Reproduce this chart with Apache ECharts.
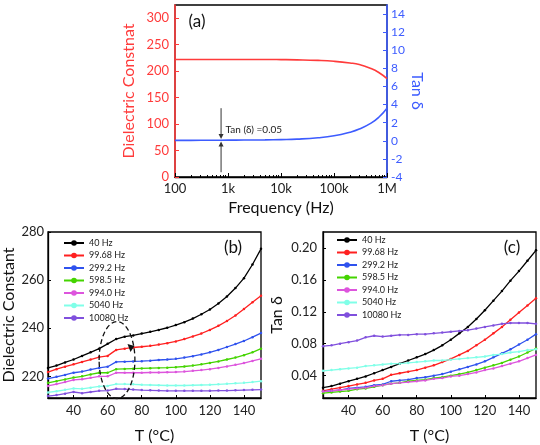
<!DOCTYPE html>
<html><head><meta charset="utf-8">
<script src="https://cdn.jsdelivr.net/npm/echarts@6/dist/echarts.min.js"></script>
<style>html,body{margin:0;padding:0;background:#fff}#c{width:540px;height:445px}</style>
</head><body><div id="c"></div>
<script>
// ---- Panel (a) data ----
const freqs = [100,200,500,1000,2000,5000,10000,20000,50000,100000,200000,300000,500000,700000,1000000];
const dielA = [222,222,222,222,222,222,221.8,221.4,220.3,218.6,215.5,212.5,205,197.5,186];
const tanA  = [0.05,0.05,0.06,0.07,0.08,0.1,0.13,0.18,0.33,0.55,0.95,1.3,1.95,2.6,3.6];
const freqTickLabels = {100:'100',1000:'1k',10000:'10k',100000:'100k',1000000:'1M'};
const dielTicksA = [0,50,100,150,200,250,300];
const tanTicksA = [-4,-2,0,2,4,6,8,10,12,14];

// ---- Panels (b),(c) data ----
const temps = [25,30,35,40,45,50,55,60,65,70,75,80,85,90,95,100,105,110,115,120,125,130,135,140,145,150];
const seriesNames = ['40 Hz','99.68 Hz','299.2 Hz','598.5 Hz','994.0 Hz','5040 Hz','10080 Hz'];
const seriesColors = ['#000000','#ff2020','#2f52ee','#44d400','#dd55dd','#80ffe8','#8050dd'];

const dc40    = [223.5,224.5,225.8,227.0,228.5,230.0,231.5,233.5,235.5,236.5,237.0,237.8,238.5,239.3,240.2,241.3,242.5,244.0,245.8,247.8,250.3,253.2,256.7,260.8,266.5,273.0];
const dc99    = [221.8,223.0,224.0,225.0,226.0,227.0,228.0,228.5,231.0,231.5,232.0,232.3,232.7,233.2,233.8,234.5,235.5,236.6,237.8,239.3,241.0,243.0,245.3,248.0,250.8,253.5];
const dc299   = [219.1,219.8,220.6,221.5,222.0,222.8,223.5,224.0,226.0,226.1,226.2,226.3,226.5,226.8,227.0,227.3,227.8,228.4,229.1,230.0,231.0,232.2,233.4,234.7,236.3,238.0];
const dc598   = [217.3,218.0,218.7,219.5,220.0,220.8,221.5,221.5,223.0,223.1,223.2,223.3,223.4,223.5,223.6,223.8,224.1,224.5,225.0,225.6,226.2,227.0,227.8,228.8,230.0,231.5];
const dc994   = [216.0,216.8,217.6,218.5,218.8,219.4,220.0,220.0,221.5,221.5,221.5,221.5,221.6,221.6,221.7,221.8,222.0,222.3,222.6,223.0,223.5,224.1,224.8,225.5,226.4,227.3];
const dc5040  = [213.3,213.8,214.4,215.0,214.8,215.3,215.8,216.0,216.8,216.8,216.7,216.5,216.4,216.3,216.2,216.2,216.2,216.3,216.4,216.5,216.7,216.9,217.1,217.3,217.6,218.0];
const dc10080 = [211.8,212.2,212.8,213.5,213.0,213.5,214.0,214.1,214.8,214.7,214.5,214.3,214.2,214.1,214.0,214.0,214.0,214.0,214.0,214.0,214.1,214.1,214.2,214.3,214.4,214.5];

const td40    = [0.025,0.027,0.030,0.033,0.036,0.039,0.043,0.047,0.051,0.055,0.059,0.063,0.067,0.072,0.078,0.085,0.093,0.101,0.111,0.122,0.134,0.146,0.159,0.171,0.184,0.197];
const td99    = [0.021,0.023,0.025,0.027,0.029,0.031,0.034,0.036,0.041,0.043,0.045,0.047,0.050,0.053,0.057,0.061,0.066,0.071,0.078,0.085,0.093,0.101,0.110,0.119,0.128,0.137];
const td299   = [0.020,0.021,0.022,0.024,0.025,0.026,0.028,0.029,0.033,0.034,0.035,0.037,0.038,0.040,0.042,0.045,0.048,0.051,0.054,0.058,0.063,0.068,0.073,0.079,0.085,0.092];
const td598   = [0.018,0.019,0.020,0.021,0.023,0.024,0.026,0.028,0.030,0.031,0.033,0.034,0.035,0.037,0.038,0.040,0.042,0.044,0.047,0.050,0.053,0.056,0.060,0.064,0.069,0.074];
const td994   = [0.020,0.021,0.022,0.023,0.024,0.025,0.027,0.028,0.030,0.031,0.032,0.033,0.034,0.036,0.037,0.039,0.040,0.042,0.044,0.047,0.049,0.052,0.055,0.058,0.062,0.066];
const td5040  = [0.046,0.047,0.048,0.049,0.050,0.052,0.053,0.054,0.055,0.055,0.056,0.057,0.058,0.059,0.059,0.060,0.061,0.062,0.063,0.064,0.066,0.067,0.069,0.070,0.072,0.073];
const td10080 = [0.077,0.078,0.080,0.082,0.084,0.088,0.090,0.089,0.090,0.091,0.091,0.092,0.092,0.093,0.094,0.095,0.096,0.097,0.099,0.101,0.103,0.105,0.106,0.106,0.106,0.105];

const tempTicks = [40,60,80,100,120,140];
const dcTicks = [220,240,260,280];
const tdTicks = [0.04,0.08,0.12,0.16,0.20];

const dcSets = [dc40,dc99,dc299,dc598,dc994,dc5040,dc10080];
const tdSets = [td40,td99,td299,td598,td994,td5040,td10080];

const FONT = 'Lato, "Open Sans", sans-serif';
const RED = '#ff3b3b', BLUE = '#3d5cff';
const pair = (xs, ys) => xs.map((x,i)=>[x, ys[i]]);

const chart = echarts.init(document.getElementById('c'), null, {renderer:'canvas'});

function tempXAxis(gi){
  return {
    type:'value', gridIndex:gi, min:25, max:150,
    name:'T (°C)', nameLocation:'middle', nameGap:30,
    nameTextStyle:{fontSize:16, color:'#111', fontFamily:FONT},
    axisLine:{lineStyle:{color:'#000', width:1.3}},
    axisTick:{inside:true, length:3, customValues:tempTicks, lineStyle:{color:'#000'}},
    axisLabel:{customValues:tempTicks, fontSize:13, color:'#222', fontFamily:FONT, margin:6},
    splitLine:{show:false}
  };
}

const series = [
  {type:'line', xAxisIndex:0, yAxisIndex:0, data:pair(freqs,dielA), smooth:true, showSymbol:false,
   lineStyle:{color:RED, width:1.6}, itemStyle:{color:RED}, z:3},
  {type:'line', xAxisIndex:0, yAxisIndex:1, data:pair(freqs,tanA), smooth:true, showSymbol:false,
   lineStyle:{color:BLUE, width:1.6}, itemStyle:{color:BLUE}, z:3}
];
seriesNames.forEach((n,i)=>{
  series.push({type:'line', name:n, xAxisIndex:1, yAxisIndex:2, data:pair(temps, dcSets[i]),
    symbol:'circle', symbolSize:2.5, lineStyle:{color:seriesColors[i], width:1.3},
    itemStyle:{color:seriesColors[i]}, z:3});
  series.push({type:'line', name:n, xAxisIndex:2, yAxisIndex:3, data:pair(temps, tdSets[i]),
    symbol:'circle', symbolSize:2.5, lineStyle:{color:seriesColors[i], width:1.3},
    itemStyle:{color:seriesColors[i]}, z:3});
});

const legendCommon = {
  orient:'vertical', padding:0, itemWidth:20, itemHeight:7, itemGap:2.5,
  textStyle:{fontSize:9, color:'#222', fontFamily:FONT, lineHeight:10},
  data:seriesNames, selectedMode:false
};

chart.setOption({
  animation:false,
  textStyle:{fontFamily:FONT},
  grid:[
    {left:175, top:5, width:212, height:172, show:true, borderColor:'#000', borderWidth:1.3, backgroundColor:'transparent'},
    {left:48, top:232, width:213, height:171, show:true, borderColor:'#000', borderWidth:1.3, backgroundColor:'transparent'},
    {left:323, top:232, width:213, height:171, show:true, borderColor:'#000', borderWidth:1.3, backgroundColor:'transparent'}
  ],
  xAxis:[
    {type:'log', logBase:10, gridIndex:0, min:100, max:1000000,
     name:'Frequency (Hz)', nameLocation:'middle', nameGap:23,
     nameTextStyle:{fontSize:16, color:'#111', fontFamily:FONT},
     axisLine:{lineStyle:{color:'#000', width:1.3}},
     axisTick:{inside:true, length:4, lineStyle:{color:'#000'}},
     minorTick:{show:true, splitNumber:9, length:2, lineStyle:{color:'#000'}},
     axisLabel:{fontSize:13, color:'#222', fontFamily:FONT, margin:5, formatter:v=>freqTickLabels[Math.round(v)]||''},
     splitLine:{show:false}, minorSplitLine:{show:false}},
    tempXAxis(1), tempXAxis(2)
  ],
  yAxis:[
    {type:'value', gridIndex:0, position:'left', min:0, max:325,
     name:'Dielectric Constnat', nameLocation:'middle', nameGap:38, nameRotate:90,
     nameTextStyle:{fontSize:16, color:RED, fontFamily:FONT},
     axisLine:{show:true, lineStyle:{color:RED, width:1.6}},
     axisTick:{inside:true, length:4, customValues:dielTicksA, lineStyle:{color:RED}},
     axisLabel:{customValues:dielTicksA, fontSize:13, color:RED, fontFamily:FONT, margin:6},
     splitLine:{show:false}},
    {type:'value', gridIndex:0, position:'right', min:-4, max:15,
     name:'Tan δ', nameLocation:'middle', nameGap:17, nameRotate:-90,
     nameTextStyle:{fontSize:16, color:BLUE, fontFamily:FONT},
     axisLine:{show:true, lineStyle:{color:BLUE, width:1.6}},
     axisTick:{inside:true, length:4, customValues:tanTicksA, lineStyle:{color:BLUE}},
     axisLabel:{customValues:tanTicksA, fontSize:12, color:BLUE, fontFamily:FONT, margin:4},
     splitLine:{show:false}},
    {type:'value', gridIndex:1, min:211, max:280,
     name:'Dielectric Constant', nameLocation:'middle', nameGap:31, nameRotate:90,
     nameTextStyle:{fontSize:16, color:'#111', fontFamily:FONT},
     axisLine:{show:true, lineStyle:{color:'#000', width:1.3}},
     axisTick:{inside:true, length:3, customValues:dcTicks, lineStyle:{color:'#000'}},
     axisLabel:{customValues:dcTicks, fontSize:13, color:'#222', fontFamily:FONT, margin:4},
     splitLine:{show:false}},
    {type:'value', gridIndex:2, min:0.012, max:0.22,
     name:'Tan δ', nameLocation:'middle', nameGap:38, nameRotate:90,
     nameTextStyle:{fontSize:16, color:'#111', fontFamily:FONT},
     axisLine:{show:true, lineStyle:{color:'#000', width:1.3}},
     axisTick:{inside:true, length:3, customValues:tdTicks, lineStyle:{color:'#000'}},
     axisLabel:{customValues:tdTicks, fontSize:13, color:'#222', fontFamily:FONT, margin:6, formatter:v=>v.toFixed(2)},
     splitLine:{show:false}}
  ],
  legend:[
    Object.assign({left:63, top:238}, legendCommon),
    Object.assign({left:336, top:235}, legendCommon)
  ],
  series:series
});

// annotations positioned through the axes
const pA = (f, v) => chart.convertToPixel({xAxisIndex:0, yAxisIndex:0}, [f, v]);
const pB = (t, v) => chart.convertToPixel({xAxisIndex:1, yAxisIndex:2}, [t, v]);
const a1 = pA(740, 130), a2 = pA(740, 72), a3 = pA(740, 9), a4 = pA(740, 67);
const lbl = pA(900, 90);
const eC = pB(65.5, 226.8), eT = pB(76, 242.8);
const rx = eT[0]-eC[0], ry = eC[1]-eT[1];
const ah = pB(74, 230.5);
const g = [
  {type:'line', shape:{x1:a1[0],y1:a1[1],x2:a2[0],y2:a2[1]-3}, style:{stroke:'#333', lineWidth:1}},
  {type:'polygon', shape:{points:[[a2[0]-2.5,a2[1]-5],[a2[0]+2.5,a2[1]-5],[a2[0],a2[1]]]}, style:{fill:'#333'}},
  {type:'line', shape:{x1:a3[0],y1:a3[1],x2:a4[0],y2:a4[1]+3}, style:{stroke:'#333', lineWidth:1}},
  {type:'polygon', shape:{points:[[a4[0]-2.5,a4[1]+5],[a4[0]+2.5,a4[1]+5],[a4[0],a4[1]]]}, style:{fill:'#333'}},
  {type:'text', x:lbl[0], y:lbl[1], style:{text:'Tan (δ) =0.05', fontSize:10, fill:'#222', fontFamily:FONT, verticalAlign:'middle'}},
  {type:'text', x:197, y:22, style:{text:'(a)', fontSize:17, fill:'#111', fontFamily:FONT, align:'center', verticalAlign:'middle'}},
  {type:'text', x:233, y:248, style:{text:'(b)', fontSize:17, fill:'#111', fontFamily:FONT, align:'center', verticalAlign:'middle'}},
  {type:'text', x:512, y:248, style:{text:'(c)', fontSize:17, fill:'#111', fontFamily:FONT, align:'center', verticalAlign:'middle'}},
  {type:'ellipse', shape:{cx:eC[0], cy:eC[1], rx:rx, ry:ry}, style:{fill:null, stroke:'#111', lineWidth:1.3, lineDash:[5,3]}, z:10},
  {type:'polygon', shape:{points:[[ah[0]-4,ah[1]-7],[ah[0]+3,ah[1]-5],[ah[0]-1,ah[1]+1]]}, style:{fill:'#111'}, z:10}
];
chart.setOption({graphic:g});
</script>
</body></html>
